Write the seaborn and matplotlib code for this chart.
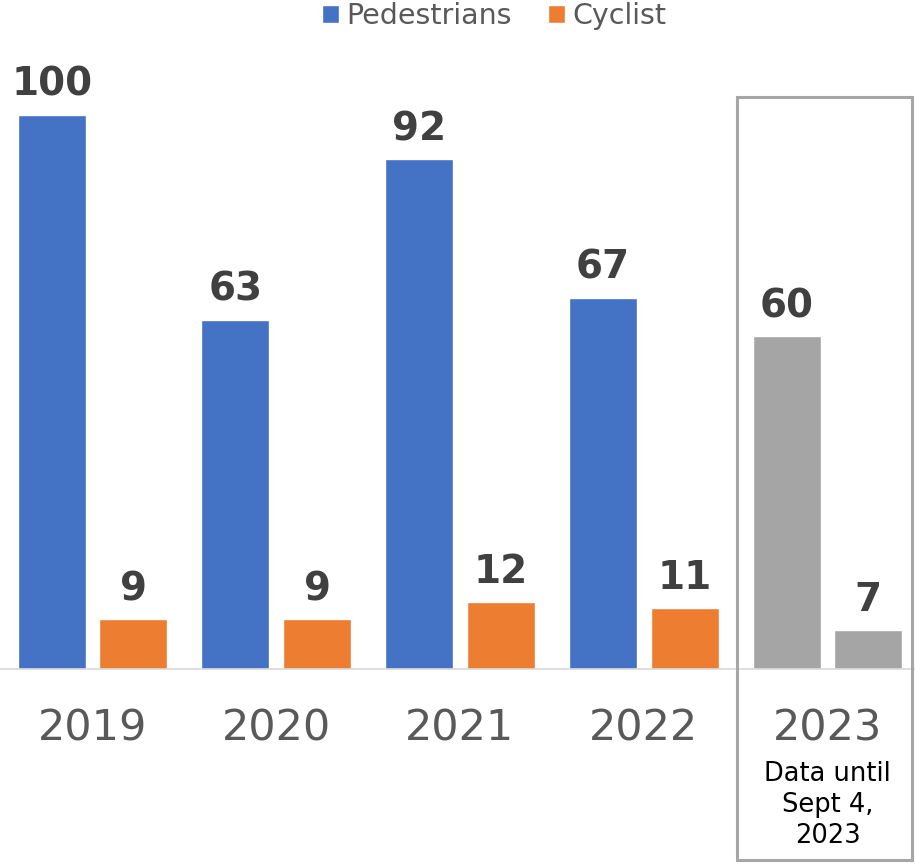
import matplotlib
matplotlib.use("Agg")
import matplotlib.pyplot as plt
from matplotlib.patches import Patch, Rectangle
from matplotlib.transforms import blended_transform_factory
import pandas as pd
import seaborn as sns

# Data
years = ["2019", "2020", "2021", "2022", "2023"]
pedestrians = [100, 63, 92, 67, 60]
cyclists = [9, 9, 12, 11, 7]
series = ["Pedestrians", "Cyclist"]

BLUE = "#4472C4"
ORANGE = "#ED7D31"
GREY = "#A5A5A5"

df = pd.DataFrame({
    "year": years * 2,
    "type": [series[0]] * len(years) + [series[1]] * len(years),
    "value": pedestrians + cyclists,
})

sns.set_style("white")
plt.rcParams["font.family"] = ["DejaVu Sans"]

fig = plt.figure(figsize=(9.15, 8.64), dpi=100)
ax = fig.add_axes([0, 195 / 864, 1, 624 / 864])

sns.barplot(data=df, x="year", y="value", hue="type", order=years,
            hue_order=series, palette=[BLUE, ORANGE], width=0.888, gap=0.167,
            saturation=1, legend=False, ax=ax)

# grey out the partial 2023 year
for container in ax.containers:
    container[-1].set_facecolor(GREY)
    ax.bar_label(container, padding=8, fontsize=28, fontweight="bold",
                 color="#404040")

ax.set_xlim(-0.503, 4.476)
ax.set_ylim(0, 112.6)
ax.set_xlabel("")
ax.set_ylabel("")
ax.set_yticks([])
for side in ["top", "left", "right"]:
    ax.spines[side].set_visible(False)
ax.spines["bottom"].set_color("#D9D9D9")
ax.spines["bottom"].set_linewidth(1.2)
ax.tick_params(axis="x", length=0, pad=28, labelsize=31, labelcolor="#595959")

# note under 2023
trans = blended_transform_factory(ax.transData, fig.transFigure)
ax.text(4, 1 - 805 / 864, "Data until\nSept 4,\n2023", transform=trans,
        ha="center", va="center", multialignment="center", fontsize=18.5,
        color="black", linespacing=1.25)

# box around 2023
fig.patches.append(Rectangle((737 / 915, 4 / 864), 175 / 915, 763 / 864,
                             transform=fig.transFigure, fill=False,
                             edgecolor="#A6A6A6", linewidth=2.2))

handles = [Patch(facecolor=BLUE), Patch(facecolor=ORANGE)]
fig.legend(handles, series, loc="center", bbox_to_anchor=(0.54, 1 - 16 / 864),
           ncol=2, frameon=False, fontsize=20.5, labelcolor="#595959",
           handlelength=0.6, handleheight=0.6, handletextpad=0.25,
           columnspacing=1.3, borderpad=0)

fig.savefig("out.png", dpi=100)
